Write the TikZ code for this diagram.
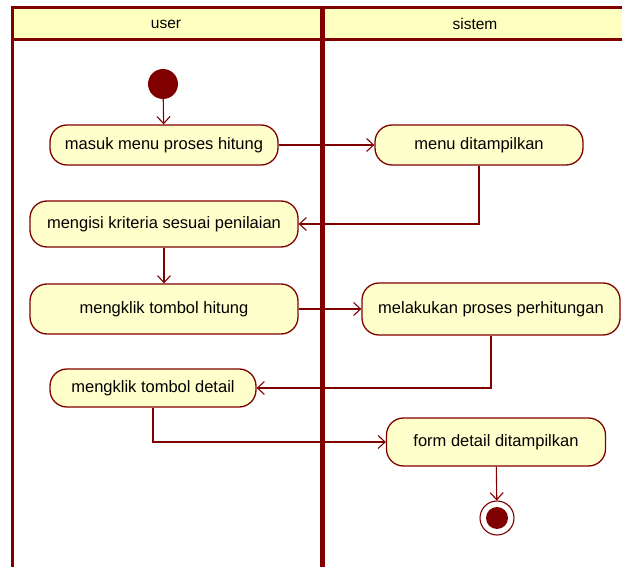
\documentclass[tikz,border=0pt]{standalone}
\usepackage{fontspec}
\setmainfont{Liberation Sans}
\usetikzlibrary{arrows.meta}
\definecolor{umlred}{HTML}{800000}
\definecolor{actfill}{HTML}{FFFFCC}
\definecolor{headfill}{HTML}{FFFFC0}
\begin{document}
\begin{tikzpicture}[x=1pt,y=-1pt]
	\tikzset{act/.style = {draw=umlred, fill=actfill, line width=1.3pt, rounded corners=17pt, minimum height=40pt, inner sep=0pt, font=\fontsize{16.5}{19}\selectfont}}
	\tikzset{flow/.style = {draw=umlred, line width=1.1pt, -{Straight Barb[length=7pt,width=13pt]}}}
	\tikzset{lane/.style = {font=\fontsize{15.5}{18}\selectfont}}
	\useasboundingbox (0,0) rectangle (622,567);
	% Draw swimlanes
	\fill[headfill] (12,8) rectangle (630,40);
	\draw[umlred, line width=3pt] (12,567) -- (12,8) -- (630,8);
	\draw[umlred, line width=3pt] (12,40) -- (630,40);
	\draw[umlred, line width=5pt] (322,8) -- (322,567);
	\node[lane] (user) at (166,24) {user};
	\node[lane] (sistem) at (475,24) {sistem};
	% Draw activities
	\node[circle, fill=umlred, minimum size=30pt, inner sep=0pt] (start) at (163,84) {};
	\node[act, minimum width=228pt] (masuk) at (164,145) {masuk menu proses hitung};
	\node[act, minimum width=208pt] (menu) at (479,145) {menu ditampilkan};
	\node[act, minimum width=268pt, minimum height=46pt] (isi) at (164,224) {mengisi kriteria sesuai penilaian};
	\node[act, minimum width=268pt, minimum height=50pt] (hitung) at (164,309) {mengklik tombol hitung};
	\node[act, minimum width=258pt, minimum height=52pt] (proses) at (491,309) {melakukan proses perhitungan};
	\node[act, minimum width=206pt, minimum height=38pt] (detail) at (153,388) {mengklik tombol detail};
	\node[act, minimum width=219pt, minimum height=48pt] (form) at (496,442) {form detail ditampilkan};
	\node[circle, draw=umlred, line width=1.1pt, fill=white, minimum size=34pt, inner sep=0pt,
		path picture={\fill[umlred] (path picture bounding box.center) circle (11pt);}] (end) at (497,518) {};
	% Draw flows
	\draw[flow] (start) -- (masuk);
	\draw[flow] (masuk) -- (menu);
	\draw[flow] (menu.south) |- (isi.east);
	\draw[flow] (isi) -- (hitung);
	\draw[flow] (hitung) -- (proses);
	\draw[flow] (proses.south) |- (detail.east);
	\draw[flow] (detail.south) |- (form.west);
	\draw[flow] (form) -- (end);
\end{tikzpicture}
\end{document}
